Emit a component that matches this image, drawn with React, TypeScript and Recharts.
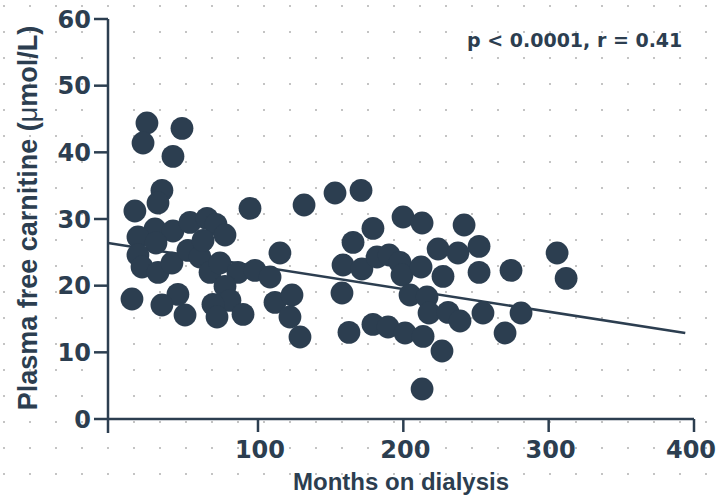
import { ScatterChart, Scatter, XAxis, YAxis, ReferenceLine } from "recharts";

// one entry per patient
const months = [
  23.6, 47.7, 20.9, 41.5, 33.9, 31.2, 15.3, 29.1, 17.4, 41.5,
  53.2, 64.9, 71.1, 77.3, 29.8, 17.4, 20.2, 31.2, 40.8, 51.8,
  60.1, 67.0, 73.8, 86.2, 97.9, 108.3, 77.3, 80.7, 89.7, 69.0,
  71.8, 49.8, 44.9, 33.9, 13.3, 94.5, 115.1, 111.7, 123.4, 122.0,
  128.9, 131.7, 62.2, 153.0, 170.9, 199.8, 212.9, 241.8, 179.1, 165.4,
  158.5, 171.5, 181.9, 190.2, 197.7, 199.1, 212.2, 223.9, 237.6, 252.1,
  227.3, 252.1, 157.8, 204.6, 216.3, 217.7, 230.8, 239.0, 254.8, 162.6,
  179.1, 189.5, 201.2, 213.6, 226.6, 212.9, 274.1, 305.8, 312.0, 281.0,
  270.0,
];
const carnitine = [
  44.4, 43.6, 41.4, 39.4, 34.3, 32.4, 31.2, 28.5, 27.3, 28.2,
  29.5, 30.1, 29.2, 27.6, 26.4, 24.6, 22.8, 22.0, 23.4, 25.3,
  24.3, 22.0, 23.4, 22.0, 22.3, 21.3, 19.9, 17.8, 15.7, 17.2,
  15.3, 15.6, 18.7, 17.1, 18.0, 31.6, 24.9, 17.5, 18.6, 15.3,
  12.3, 32.1, 26.8, 33.9, 34.3, 30.3, 29.4, 29.1, 28.6, 26.5,
  23.1, 22.5, 24.3, 24.6, 23.5, 21.6, 22.8, 25.5, 24.9, 25.9,
  21.4, 22.0, 18.9, 18.6, 18.3, 15.9, 16.0, 14.7, 15.9, 13.0,
  14.2, 13.8, 12.9, 12.4, 10.2, 4.5, 22.3, 24.9, 21.1, 15.9,
  12.9,
];
const xTicks = [100, 200, 300, 400];
const yTicks = [0, 10, 20, 30, 40, 50, 60];
const trendMonths = [-3.2, 394];
const trendCarnitine = [26.4, 12.9];

const ink = "#2c3e50";
const tickFont = "'DejaVu Sans', sans-serif";
const titleFont = "'Liberation Sans', Arial, sans-serif";

const points = months.map((m, i) => ({ months: m, carnitine: carnitine[i] }));

function XTick(props: any) {
  const { x, y, payload } = props;
  return (
    <g>
      <line x1={x} x2={x} y1={y - 14} y2={y - 1} stroke={ink} strokeWidth={2.5} />
      <text
        x={Math.min(x + 2, 691)}
        y={y + 25}
        textAnchor="middle"
        fill={ink}
        fontFamily={tickFont}
        fontWeight="bold"
        fontSize={24}
      >
        {payload.value}
      </text>
    </g>
  );
}

function Dot(props: any) {
  return <circle cx={props.cx} cy={props.cy} r={11.4} fill={ink} />;
}

export default function App() {
  return (
    <div
      style={{
        position: "absolute",
        top: 0,
        left: 0,
        width: 719,
        height: 498,
        background: "#fff",
        backgroundImage: "radial-gradient(circle, #c4c4c4 0.8px, transparent 1.4px)",
        backgroundSize: "26px 26px",
        backgroundPosition: "17px 19px",
      }}
    >
      <ScatterChart width={719} height={498} margin={{ top: 19, right: 25, bottom: 0, left: 0 }}>
        <XAxis
          type="number"
          dataKey="months"
          domain={[-3.2, 400]}
          ticks={xTicks}
          interval={0}
          allowDataOverflow
          axisLine={false}
          tickLine={false}
          tickSize={0}
          tickMargin={0}
          height={65}
          tick={<XTick />}
        />
        <YAxis
          type="number"
          dataKey="carnitine"
          domain={[-2.1, 60]}
          ticks={yTicks}
          interval={0}
          allowDataOverflow
          width={108}
          axisLine={{ stroke: ink, strokeWidth: 2.5 }}
          tickLine={{ stroke: ink, strokeWidth: 2.5 }}
          tickSize={14}
          tickMargin={3}
          tick={{ fill: ink, fontFamily: tickFont, fontWeight: "bold", fontSize: 24 }}
        />
        <ReferenceLine y={0} stroke={ink} strokeWidth={2.5} />
        <ReferenceLine
          segment={[
            { x: trendMonths[0], y: trendCarnitine[0] },
            { x: trendMonths[1], y: trendCarnitine[1] },
          ]}
          stroke={ink}
          strokeWidth={2.5}
        />
        <Scatter data={points} shape={<Dot />} isAnimationActive={false} />
      </ScatterChart>

      <div
        style={{
          position: "absolute",
          left: 28,
          top: 218,
          transform: "translate(-50%, -50%) rotate(-90deg)",
          whiteSpace: "nowrap",
          fontFamily: titleFont,
          fontWeight: "bold",
          fontSize: 27,
          lineHeight: "27px",
          color: ink,
        }}
      >
        Plasma free carnitine (<span style={{ fontWeight: "normal" }}>μ</span>mol/L)
      </div>
      <div
        style={{
          position: "absolute",
          left: 401,
          top: 470,
          transform: "translateX(-50%)",
          whiteSpace: "nowrap",
          fontFamily: titleFont,
          fontWeight: "bold",
          fontSize: 24,
          lineHeight: "24px",
          color: ink,
        }}
      >
        Months on dialysis
      </div>
      <div
        style={{
          position: "absolute",
          left: 467,
          top: 31,
          whiteSpace: "nowrap",
          fontFamily: tickFont,
          fontWeight: "bold",
          fontSize: 19,
          lineHeight: "19px",
          color: ink,
        }}
      >
        p &lt; 0.0001, r = 0.41
      </div>
    </div>
  );
}
